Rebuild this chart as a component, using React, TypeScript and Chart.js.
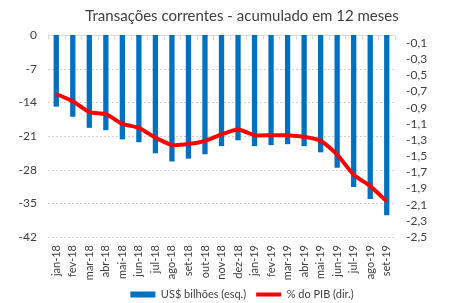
import React, { useEffect, useRef } from 'react';
import { Chart, registerables } from 'chart.js';

Chart.register(...registerables);

const categories = ['jan-18', 'fev-18', 'mar-18', 'abr-18', 'mai-18', 'jun-18', 'jul-18', 'ago-18', 'set-18', 'out-18', 'nov-18', 'dez-18', 'jan-19', 'fev-19', 'mar-19', 'abr-19', 'mai-19', 'jun-19', 'jul-19', 'ago-19', 'set-19'];
const usdBillions = [-14.9, -17.0, -19.3, -19.8, -21.7, -22.3, -24.6, -26.3, -25.7, -24.8, -23.1, -21.9, -23.1, -22.9, -22.7, -23.1, -24.4, -27.6, -31.6, -34.1, -37.5];
const pctGdp = [-0.73, -0.82, -0.955, -0.98, -1.1, -1.15, -1.27, -1.36, -1.35, -1.31, -1.23, -1.17, -1.24, -1.24, -1.24, -1.26, -1.31, -1.48, -1.73, -1.87, -2.06];
const leftTicks = [0, -7, -14, -21, -28, -35, -42];
const rightTicks = [-0.1, -0.3, -0.5, -0.7, -0.9, -1.1, -1.3, -1.5, -1.7, -1.9, -2.1, -2.3, -2.5];

const TITLE = 'Transações correntes - acumulado em 12 meses';
const BAR_LABEL = 'US$ bilhões (esq.)';
const LINE_LABEL = '% do PIB (dir.)';

const FONT = 'Lato, "Liberation Sans", sans-serif';
const TEXT = '#404040';

const gridPlugin = {
  id: 'excelGrid',
  beforeDatasetsDraw(chart: any) {
    const { ctx, chartArea, scales } = chart;
    const ys = scales.y;
    const xs = scales.x;
    ctx.save();
    ctx.strokeStyle = '#D0D0D0';
    ctx.lineWidth = 1;
    ctx.setLineDash([2, 2]);
    ctx.beginPath();
    for (const v of leftTicks) {
      if (v === 0) continue;
      const y = Math.round(ys.getPixelForValue(v)) + 0.5;
      ctx.moveTo(chartArea.left, y);
      ctx.lineTo(chartArea.right, y);
    }
    ctx.stroke();
    ctx.setLineDash([]);
    ctx.strokeStyle = '#D9D9D9';
    const y0 = Math.round(ys.getPixelForValue(0)) + 0.5;
    ctx.beginPath();
    ctx.moveTo(chartArea.left, y0);
    ctx.lineTo(chartArea.right, y0);
    for (let i = 0; i <= categories.length; i++) {
      const px = Math.round(xs.getPixelForValue(i - 0.5)) + 0.5;
      ctx.moveTo(px, y0);
      ctx.lineTo(px, y0 + 4);
    }
    ctx.stroke();
    ctx.restore();
  },
  afterDraw(chart: any) {
    // rotated category labels (read bottom-to-top) placed from the x scale
    const { ctx, chartArea, scales } = chart;
    const xs = scales.x;
    ctx.save();
    ctx.fillStyle = TEXT;
    ctx.font = `11px ${FONT}`;
    ctx.textAlign = 'right';
    ctx.textBaseline = 'middle';
    categories.forEach((label, i) => {
      const x = xs.getPixelForValue(i);
      ctx.save();
      ctx.translate(x, chartArea.bottom + 8);
      ctx.rotate(-Math.PI / 2);
      ctx.fillText(label, 0, 0);
      ctx.restore();
    });
    ctx.restore();
  },
};

export default function App() {
  const ref = useRef<HTMLCanvasElement>(null);
  useEffect(() => {
    document.body.style.margin = '0';
    const chart = new Chart(ref.current as HTMLCanvasElement, {
      type: 'bar',
      data: {
        labels: categories,
        datasets: [
          {
            type: 'bar',
            label: BAR_LABEL,
            data: usdBillions,
            backgroundColor: '#0070C0',
            borderWidth: 0,
            barPercentage: 0.32,
            categoryPercentage: 1,
            yAxisID: 'y',
            order: 1,
            pointStyle: 'rect',
          } as any,
          {
            type: 'line',
            label: LINE_LABEL,
            data: pctGdp,
            borderColor: '#FF0000',
            backgroundColor: '#FF0000',
            borderWidth: 4,
            pointRadius: 0,
            tension: 0.2,
            yAxisID: 'y1',
            order: 0,
            pointStyle: 'line',
          } as any,
        ],
      },
      options: {
        responsive: false,
        animation: false,
        devicePixelRatio: 1,
        layout: { padding: { left: 8, right: -22, top: 0, bottom: -7 } },
        plugins: {
          title: {
            display: true,
            text: TITLE,
            color: TEXT,
            font: { family: FONT, size: 15, weight: 'normal' },
            padding: { top: 7, bottom: 10 },
          },
          legend: {
            position: 'bottom',
            labels: {
              usePointStyle: true,
              pointStyleWidth: 25,
              boxHeight: 6,
              padding: 10,
              color: TEXT,
              font: { family: FONT, size: 11 },
              sort: (a: any, b: any) => a.datasetIndex - b.datasetIndex,
            },
          },
          tooltip: { enabled: false },
        },
        scales: {
          x: {
            grid: { display: false },
            border: { display: false },
            ticks: { display: false },
            afterFit: (s: any) => { s.height = 42; },
          },
          y: {
            position: 'left',
            min: -42,
            max: 0,
            afterBuildTicks: (s: any) => { s.ticks = leftTicks.map((v) => ({ value: v })); },
            grid: { display: false, drawTicks: false },
            border: { display: false },
            ticks: {
              autoSkip: false,
              padding: 11,
              color: TEXT,
              font: { family: FONT, size: 12 },
              callback: (v: any) => String(v),
            },
            afterFit: (s: any) => { s.width = 40; },
          },
          y1: {
            position: 'right',
            min: -2.5,
            max: 0,
            afterBuildTicks: (s: any) => { s.ticks = rightTicks.map((v) => ({ value: v })); },
            grid: { display: false, drawTicks: false },
            border: { display: false },
            ticks: {
              autoSkip: false,
              padding: 11,
              color: TEXT,
              font: { family: FONT, size: 12 },
              callback: (v: any) => Number(v).toFixed(1).replace('.', ','),
            },
            afterFit: (s: any) => { s.width = 81; },
          },
        },
      },
      plugins: [gridPlugin],
    } as any);
    return () => chart.destroy();
  }, []);
  return (
    <div style={{ width: 454, height: 303 }}>
      <canvas ref={ref} width={454} height={303} />
    </div>
  );
}
